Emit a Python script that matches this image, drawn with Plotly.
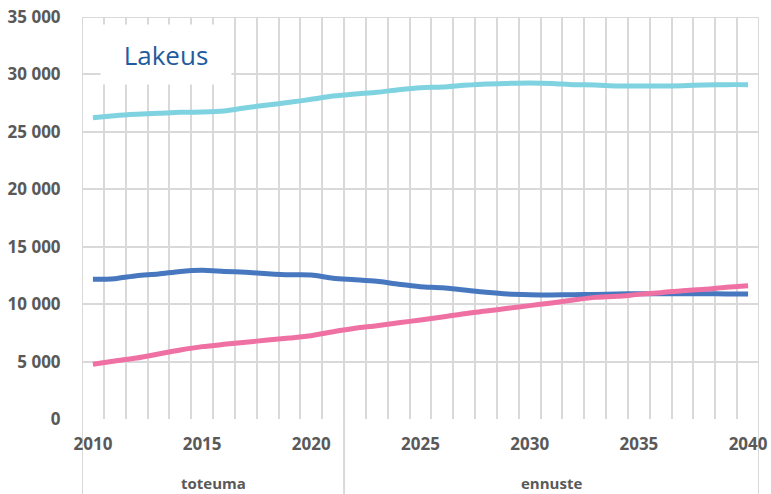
import plotly.graph_objects as go

years = list(range(2010, 2041))

cyan_values = [26230, 26410, 26530, 26610, 26700, 26730, 26820, 27100, 27340, 27570,
               27830, 28120, 28300, 28440, 28670, 28850, 28900, 29050, 29170, 29220,
               29250, 29220, 29110, 29080, 28990, 28990, 28990, 29020, 29080, 29110, 29110]
blue_values = [12160, 12220, 12480, 12620, 12850, 12940, 12850, 12770, 12650, 12560,
               12540, 12250, 12130, 11990, 11730, 11520, 11430, 11230, 11030, 10880,
               10820, 10800, 10820, 10850, 10880, 10910, 10910, 10910, 10910, 10880, 10880]
pink_values = [4760, 5050, 5310, 5660, 6010, 6300, 6500, 6680, 6880, 7050,
               7250, 7600, 7900, 8120, 8380, 8620, 8880, 9170, 9400, 9640,
               9870, 10100, 10360, 10590, 10680, 10850, 11000, 11170, 11290, 11470, 11610]

x_tick_years = [2010, 2015, 2020, 2025, 2030, 2035, 2040]
y_tick_values = [0, 5000, 10000, 15000, 20000, 25000, 30000, 35000]
y_tick_labels = ["0", "5 000", "10 000", "15 000", "20 000", "25 000", "30 000", "35 000"]

groups = ["toteuma", "ennuste"]
group_bounds = [(2009.5, 2021.5), (2021.5, 2040.5)]
title_text = "Lakeus"

grid = "#D9D9D9"
tick_font = dict(family="Open Sans", size=17, color="#595959", weight="bold")

W, H = 771, 494
L, R, T, B = 82, 12, 17, 75
plot_w = W - L - R
plot_h = H - T - B

fig = go.Figure()
for vals, col in [(cyan_values, "#7FD2DF"), (blue_values, "#4677BF"), (pink_values, "#EF70A3")]:
    fig.add_trace(go.Scatter(x=years, y=vals, mode="lines",
                             line=dict(color=col, width=5, shape="spline", smoothing=0.8),
                             showlegend=False, hoverinfo="skip", cliponaxis=False))

fig.update_layout(
    width=W, height=H,
    margin=dict(l=L, r=R, t=T, b=B, autoexpand=False),
    paper_bgcolor="white", plot_bgcolor="white",
    showlegend=False,
)
fig.update_xaxes(
    range=[2009.5, 2040.5], automargin=False,
    tickvals=x_tick_years, ticktext=[str(y) for y in x_tick_years],
    showgrid=False, zeroline=False, showline=False,
    ticks="outside", ticklen=10, tickcolor="rgba(0,0,0,0)",
    tickfont=tick_font, ticklabeloverflow="allow",
    minor=dict(tick0=2009.5, dtick=1, showgrid=True, gridcolor=grid, gridwidth=2, ticks=""),
)
fig.update_yaxes(
    range=[0, 35000], automargin=False,
    tickvals=y_tick_values, ticktext=y_tick_labels,
    showgrid=True, gridcolor=grid, gridwidth=2,
    zeroline=False, showline=False,
    ticks="outside", ticklen=17, tickcolor="rgba(0,0,0,0)",
    tickfont=tick_font, ticklabeloverflow="allow",
)

bottom = -B / plot_h
for xv in [group_bounds[0][0], group_bounds[0][1], group_bounds[1][1]]:
    fig.add_shape(type="line", xref="x", yref="paper", x0=xv, x1=xv, y0=bottom, y1=1,
                  line=dict(color=grid, width=2), layer="below")
fig.add_shape(type="line", xref="paper", yref="y", x0=0, x1=1,
              y0=y_tick_values[-1], y1=y_tick_values[-1],
              line=dict(color=grid, width=2), layer="below")

for name, (a, b) in zip(groups, group_bounds):
    fig.add_annotation(x=(a + b) / 2, xref="x", y=-64 / plot_h, yref="paper",
                       text=name, showarrow=False, xanchor="center", yanchor="middle",
                       font=dict(family="Open Sans", size=15, color="#595959", weight="bold"))

fig.add_annotation(x=18 / plot_w, xref="paper", y=(plot_h - 7) / plot_h, yref="paper",
                   xanchor="left", yanchor="top", text=title_text, showarrow=False,
                   width=130, height=59, borderpad=0, bgcolor="white",
                   align="center", valign="middle",
                   font=dict(family="Open Sans", size=26, color="#1F5C9E"))

# remove the browser's default 8px body margin so the figure fills the window
fig.write_html("out.html", config={"displayModeBar": False},
               post_script="document.body.style.margin='0px';")
